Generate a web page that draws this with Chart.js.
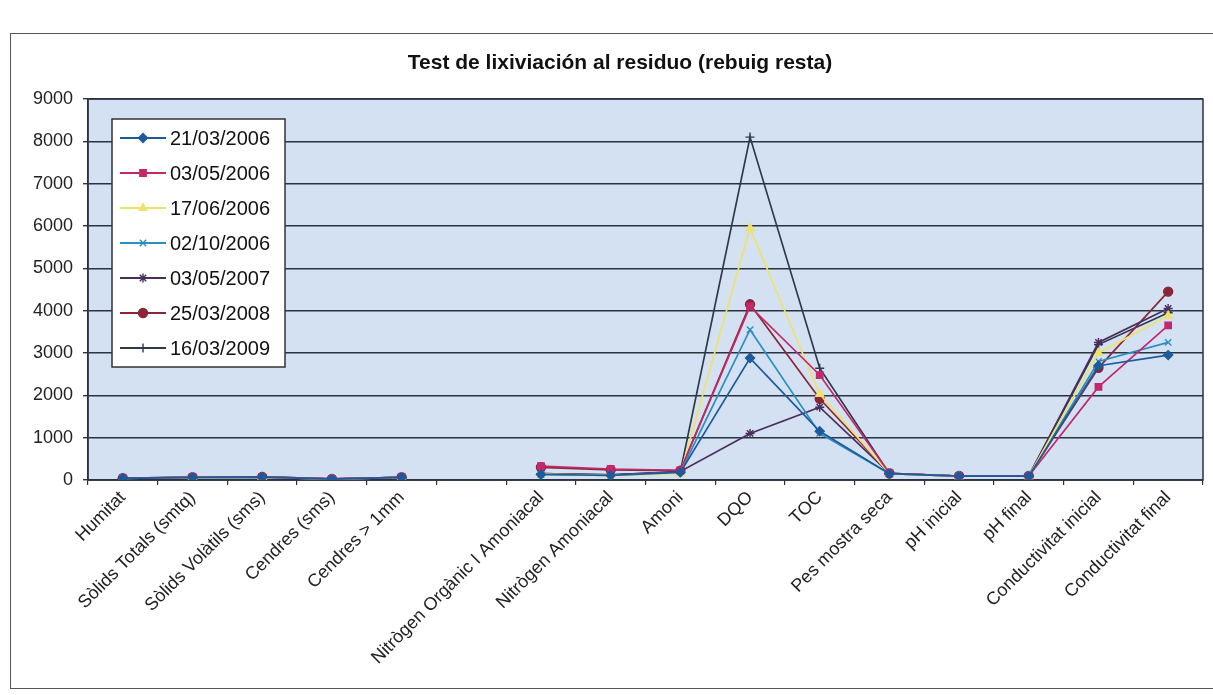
<!DOCTYPE html>
<html>
<head>
<meta charset="utf-8">
<script src="https://cdn.jsdelivr.net/npm/chart.js@4.4.0/dist/chart.umd.min.js"></script>
<style>
  html, body { margin: 0; padding: 0; background: #fff; }
  #wrap { position: relative; width: 1213px; height: 695px; overflow: hidden; }
  #frame { position: absolute; left: 10px; top: 33px; width: 1220px; height: 656px; border: 1.5px solid #555; box-sizing: border-box; }
  canvas { position: absolute; left: 0; top: 0; }
</style>
</head>
<body>
<div id="wrap">
  <div id="frame"></div>
  <canvas id="lixChart" width="1213" height="695"></canvas>
</div>
<script>
"use strict"

// categories (index 5 is an empty column in the original sheet)
const categories = ["Humitat", "Sòlids Totals (smtq)", "Sòlids Volàtils (sms)", "Cendres (sms)", "Cendres > 1mm", "",
    "Nitrògen Orgànic I Amoniacal", "Nitrògen Amoniacal", "Amoni", "DQO", "TOC", "Pes mostra seca",
    "pH inicial", "pH final", "Conductivitat inicial", "Conductivitat final"];

const yTicks = [0, 1000, 2000, 3000, 4000, 5000, 6000, 7000, 8000, 9000];

// one array per sampling date
const seriesNames = ["21/03/2006", "03/05/2006", "17/06/2006", "02/10/2006", "03/05/2007", "25/03/2008", "16/03/2009"];
const d20060321 = [40, 60, 70, 20, 60, null, 130, 110, 180, 2880, 1150, 150, 90, 90, 2700, 2950];
const d20060503 = [45, 65, 75, 25, 65, null, 330, 260, 230, 4100, 2480, 160, 95, 95, 2200, 3650];
const d20060617 = [40, 60, 70, 20, 60, null, 140, 110, 150, 5950, 2030, 150, 90, 90, 3000, 3880];
const d20061002 = [40, 60, 70, 20, 60, null, 130, 110, 180, 3550, 1100, 150, 90, 90, 2800, 3250];
const d20070503 = [45, 65, 75, 25, 65, null, 150, 120, 200, 1100, 1720, 160, 95, 95, 3250, 4050];
const d20080325 = [45, 65, 75, 25, 65, null, 300, 240, 220, 4150, 1920, 160, 95, 95, 2650, 4450];
const d20090316 = [40, 60, 70, 20, 60, null, 150, 120, 190, 8100, 2640, 150, 90, 90, 3200, 3950];

const seriesData = [d20060321, d20060503, d20060617, d20061002, d20070503, d20080325, d20090316];
const seriesColors = ["#1d5a9c", "#c2286a", "#efe26a", "#2b8fc2", "#4b2d5e", "#8a2638", "#2e3a4a"];
const seriesMarkers = ["rectRot", "rect", "triangle", "crossRot", "star", "circle", "cross"];

const chartTitle = "Test de lixiviación al residuo (rebuig resta)";
const FONT = "'Liberation Sans', Arial, sans-serif";
const chartEl = document.getElementById("lixChart");

// light blue plot background + frame + title
const plotBackground = {
    id: "plotBackground",
    beforeDraw(chart) {
        const a = chart.chartArea;
        const ctx = chart.ctx;
        ctx.save();
        ctx.fillStyle = "#d3e1f2";
        ctx.fillRect(a.left, a.top, a.right - a.left, a.bottom - a.top);
        //titel
        ctx.fillStyle = "#111";
        ctx.font = "bold 21px " + FONT;
        ctx.textAlign = "center";
        ctx.textBaseline = "middle";
        ctx.fillText(chartTitle, 620, 63);
        ctx.restore();
    },
    beforeDatasetsDraw(chart) {
        const a = chart.chartArea;
        const ctx = chart.ctx;
        ctx.save();
        ctx.strokeStyle = "#2b3242";
        ctx.lineWidth = 1.5;
        ctx.strokeRect(a.left, a.top, a.right - a.left, a.bottom - a.top);
        ctx.restore();
    }
};

// legend box inside the plot, like the excel one
const boxLegend = {
    id: "boxLegend",
    afterDraw(chart) {
        const ctx = chart.ctx;
        const x0 = 112, y0 = 119, w = 173, h = 248;
        ctx.save();
        ctx.fillStyle = "#ffffff";
        ctx.fillRect(x0, y0, w, h);
        ctx.strokeStyle = "#333";
        ctx.lineWidth = 1.5;
        ctx.strokeRect(x0, y0, w, h);
        ctx.textBaseline = "middle";
        chart.data.datasets.forEach((ds, i) => {
            const y = y0 + 19 + i * 35;
            ctx.strokeStyle = ds.borderColor;
            ctx.fillStyle = ds.backgroundColor;
            ctx.lineWidth = 1.8;
            ctx.beginPath();
            ctx.moveTo(x0 + 8, y);
            ctx.lineTo(x0 + 54, y);
            ctx.stroke();
            if (Chart.helpers && Chart.helpers.drawPoint) {
                ctx.lineWidth = ds.pointBorderWidth;
                Chart.helpers.drawPoint(ctx, {
                    pointStyle: ds.pointStyle,
                    radius: ds.pointRadius,
                    rotation: 0,
                    borderWidth: ds.pointBorderWidth
                }, x0 + 31, y);
            }
            ctx.fillStyle = "#111";
            ctx.font = "20px " + FONT;
            ctx.fillText(ds.label, x0 + 58, y + 1);
        });
        ctx.restore();
    }
};

const datasets = seriesNames.map((name, i) => ({
    label: name,
    data: seriesData[i],
    borderColor: seriesColors[i],
    backgroundColor: seriesColors[i],
    pointStyle: seriesMarkers[i],
    pointRadius: 4.5,
    pointBorderWidth: 1.4,
    borderWidth: 1.7,
    tension: 0,
    spanGaps: false
}));

new Chart(chartEl, {
    type: "line",
    data: {
        labels: categories,
        datasets: datasets
    },
    options: {
        responsive: false,
        animation: false,
        devicePixelRatio: 1,
        layout: {
            padding: { left: 0, right: 10, top: 99, bottom: 0 }
        },
        plugins: {
            legend: { display: false },
            tooltip: { enabled: false },
            title: { display: false }
        },
        scales: {
            x: {
                offset: true,
                afterFit: (scale) => { scale.height = 215; },
                grid: {
                    offset: true,
                    drawOnChartArea: false,
                    drawTicks: true,
                    tickLength: 5,
                    color: "#2b3242",
                    lineWidth: 1.2
                },
                border: { display: true, color: "#2b3242", width: 1.5 },
                ticks: {
                    autoSkip: false,
                    maxRotation: 45,
                    minRotation: 45,
                    padding: 2,
                    color: "#222",
                    font: { family: FONT, size: 18 }
                }
            },
            y: {
                min: 0,
                max: 9000,
                afterFit: (scale) => { scale.width = 88; },
                afterBuildTicks: (scale) => { scale.ticks = yTicks.map(v => ({ value: v })); },
                grid: {
                    color: "#2b3242",
                    lineWidth: 1.4,
                    drawTicks: true,
                    tickLength: 5
                },
                border: { display: true, color: "#2b3242", width: 1.5 },
                ticks: {
                    padding: 10,
                    color: "#222",
                    font: { family: FONT, size: 18 },
                    callback: (value) => String(value)
                }
            }
        }
    },
    plugins: [plotBackground, boxLegend]
});
</script>
</body>
</html>
